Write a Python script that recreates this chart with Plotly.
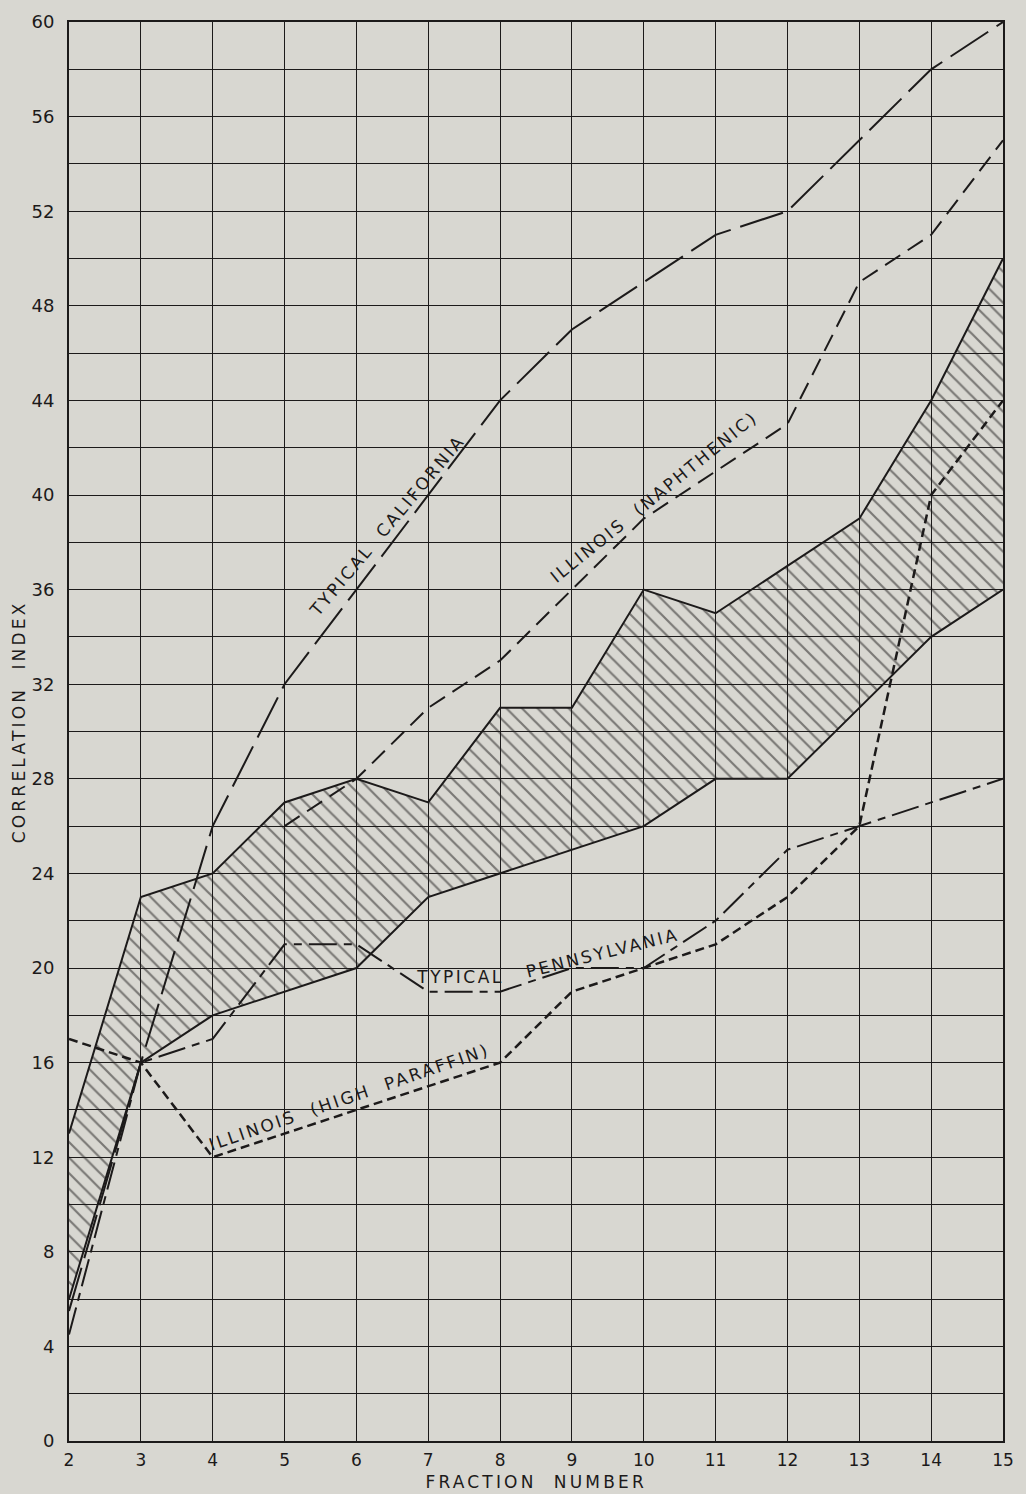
import plotly.graph_objects as go

# Fraction numbers along the x axis
fractions = [2, 3, 4, 5, 6, 7, 8, 9, 10, 11, 12, 13, 14, 15]

# Correlation index curves
california = [5.5, 16, 26, 32, 36, 40, 44, 47, 49, 51, 52, 55, 58, 60]
naphthenic_x = [5, 6, 7, 8, 9, 10, 11, 12, 13, 14, 15]
naphthenic = [26, 28, 31, 33, 36, 39, 41, 43, 49, 51, 55]
pennsylvania = [4.5, 16, 17, 21, 21, 19, 19, 20, 20, 22, 25, 26, 27, 28]
high_paraffin = [17, 16, 12, 13, 14, 15, 16, 19, 20, 21, 23, 26, 40, 44]

# Hatched band: lower and upper boundaries
band_lower = [6, 16, 18, 19, 20, 23, 24, 25, 26, 28, 28, 31, 34, 36]
band_upper = [13, 23, 24, 27, 28, 27, 31, 31, 36, 35, 37, 39, 44, 50]

y_ticks = list(range(0, 61, 4))

INK = "#1c1a1a"
PAPER = "#d8d7d1"
FONT = "DejaVu Sans"

fig = go.Figure()

# Band: lower edge, then upper edge filled down to it with a diagonal hatch
fig.add_trace(go.Scatter(
    x=fractions, y=band_lower, mode="lines",
    line=dict(color=INK, width=2), hoverinfo="skip",
))
fig.add_trace(go.Scatter(
    x=fractions, y=band_upper, mode="lines",
    line=dict(color=INK, width=2),
    fill="tonexty", fillcolor="rgba(0,0,0,0)",
    fillpattern=dict(shape="\\", size=11, solidity=0.2,
                     fgcolor=INK, bgcolor="rgba(0,0,0,0)"),
    hoverinfo="skip",
))

fig.add_trace(go.Scatter(
    x=fractions, y=california, mode="lines",
    line=dict(color=INK, width=2, dash="45px,10px"),
))
fig.add_trace(go.Scatter(
    x=naphthenic_x, y=naphthenic, mode="lines",
    line=dict(color=INK, width=2, dash="18px,9px"),
))
fig.add_trace(go.Scatter(
    x=fractions, y=pennsylvania, mode="lines",
    line=dict(color=INK, width=2, dash="28px,7px,8px,7px"),
))
fig.add_trace(go.Scatter(
    x=fractions, y=high_paraffin, mode="lines",
    line=dict(color=INK, width=2.5, dash="9px,5px"),
))

# Curve labels: (text, x, y, angle, pixel shift x, pixel shift y)
label_font = dict(family=FONT, size=17, color=INK)
labels = [
    ("TYPICAL  CALIFORNIA", 6.58, 38.3, -50, -11, 9),
    ("ILLINOIS  (NAPHTHENIC)", 10.25, 39.5, -39, -8, 10),
    ("TYPICAL", 7.45, 19.6, 0, 0, 0),
    ("PENNSYLVANIA", 9.42, 20.6, -14, 0, 1),
    ("ILLINOIS  (HIGH  PARAFFIN)", 5.93, 14.3, -19, -2, 6),
]
for text, lx, ly, ang, sx, sy in labels:
    fig.add_annotation(x=lx, y=ly, xref="x", yref="y", text=text,
                       showarrow=False, textangle=ang, font=label_font,
                       xanchor="center", yanchor="middle",
                       xshift=sx, yshift=sy)

# Axis titles
title_font = dict(family=FONT, size=17, color=INK)
fig.add_annotation(x=0, y=0.5, xref="paper", yref="paper", xshift=-51,
                   yshift=10, xanchor="center", yanchor="middle",
                   text="CORRELATION  INDEX", textangle=-90, showarrow=False,
                   font=title_font)
fig.add_annotation(x=0.5, y=0, xref="paper", yref="paper", yshift=-41,
                   xanchor="center", yanchor="middle",
                   text="FRACTION  NUMBER", showarrow=False, font=title_font)

fig.update_layout(
    width=1026, height=1494,
    margin=dict(l=69, r=23, t=11, b=53),
    paper_bgcolor=PAPER, plot_bgcolor=PAPER,
    showlegend=False,
    font=dict(family=FONT, color=INK),
)
fig.update_xaxes(
    range=[2, 15], tickvals=fractions, ticktext=[str(v) for v in fractions],
    showgrid=True, gridcolor=INK, gridwidth=1.2,
    showline=True, linecolor=INK, linewidth=2, mirror=True,
    zeroline=False, ticks="", ticklabelstandoff=3,
    tickfont=dict(family=FONT, size=17, color=INK),
)
fig.update_yaxes(
    range=[0, 60], tickvals=y_ticks,
    showgrid=True, gridcolor=INK, gridwidth=1.2,
    minor=dict(dtick=2, tick0=0, showgrid=True, gridcolor=INK, gridwidth=1.2),
    showline=True, linecolor=INK, linewidth=2, mirror=True,
    zeroline=False, ticks="", ticklabelstandoff=9,
    tickfont=dict(family=FONT, size=18, color=INK),
)

# Widen the lettering of the hand-lettered labels and axis titles
spacing_js = (
    "document.querySelectorAll('.annotation-text').forEach(function(t){"
    "var s = /INDEX|NUMBER/.test(t.textContent) ? '3.2px' : '2.5px';"
    "t.style.letterSpacing = s;});"
)

fig.write_html("out.html", post_script=spacing_js)
